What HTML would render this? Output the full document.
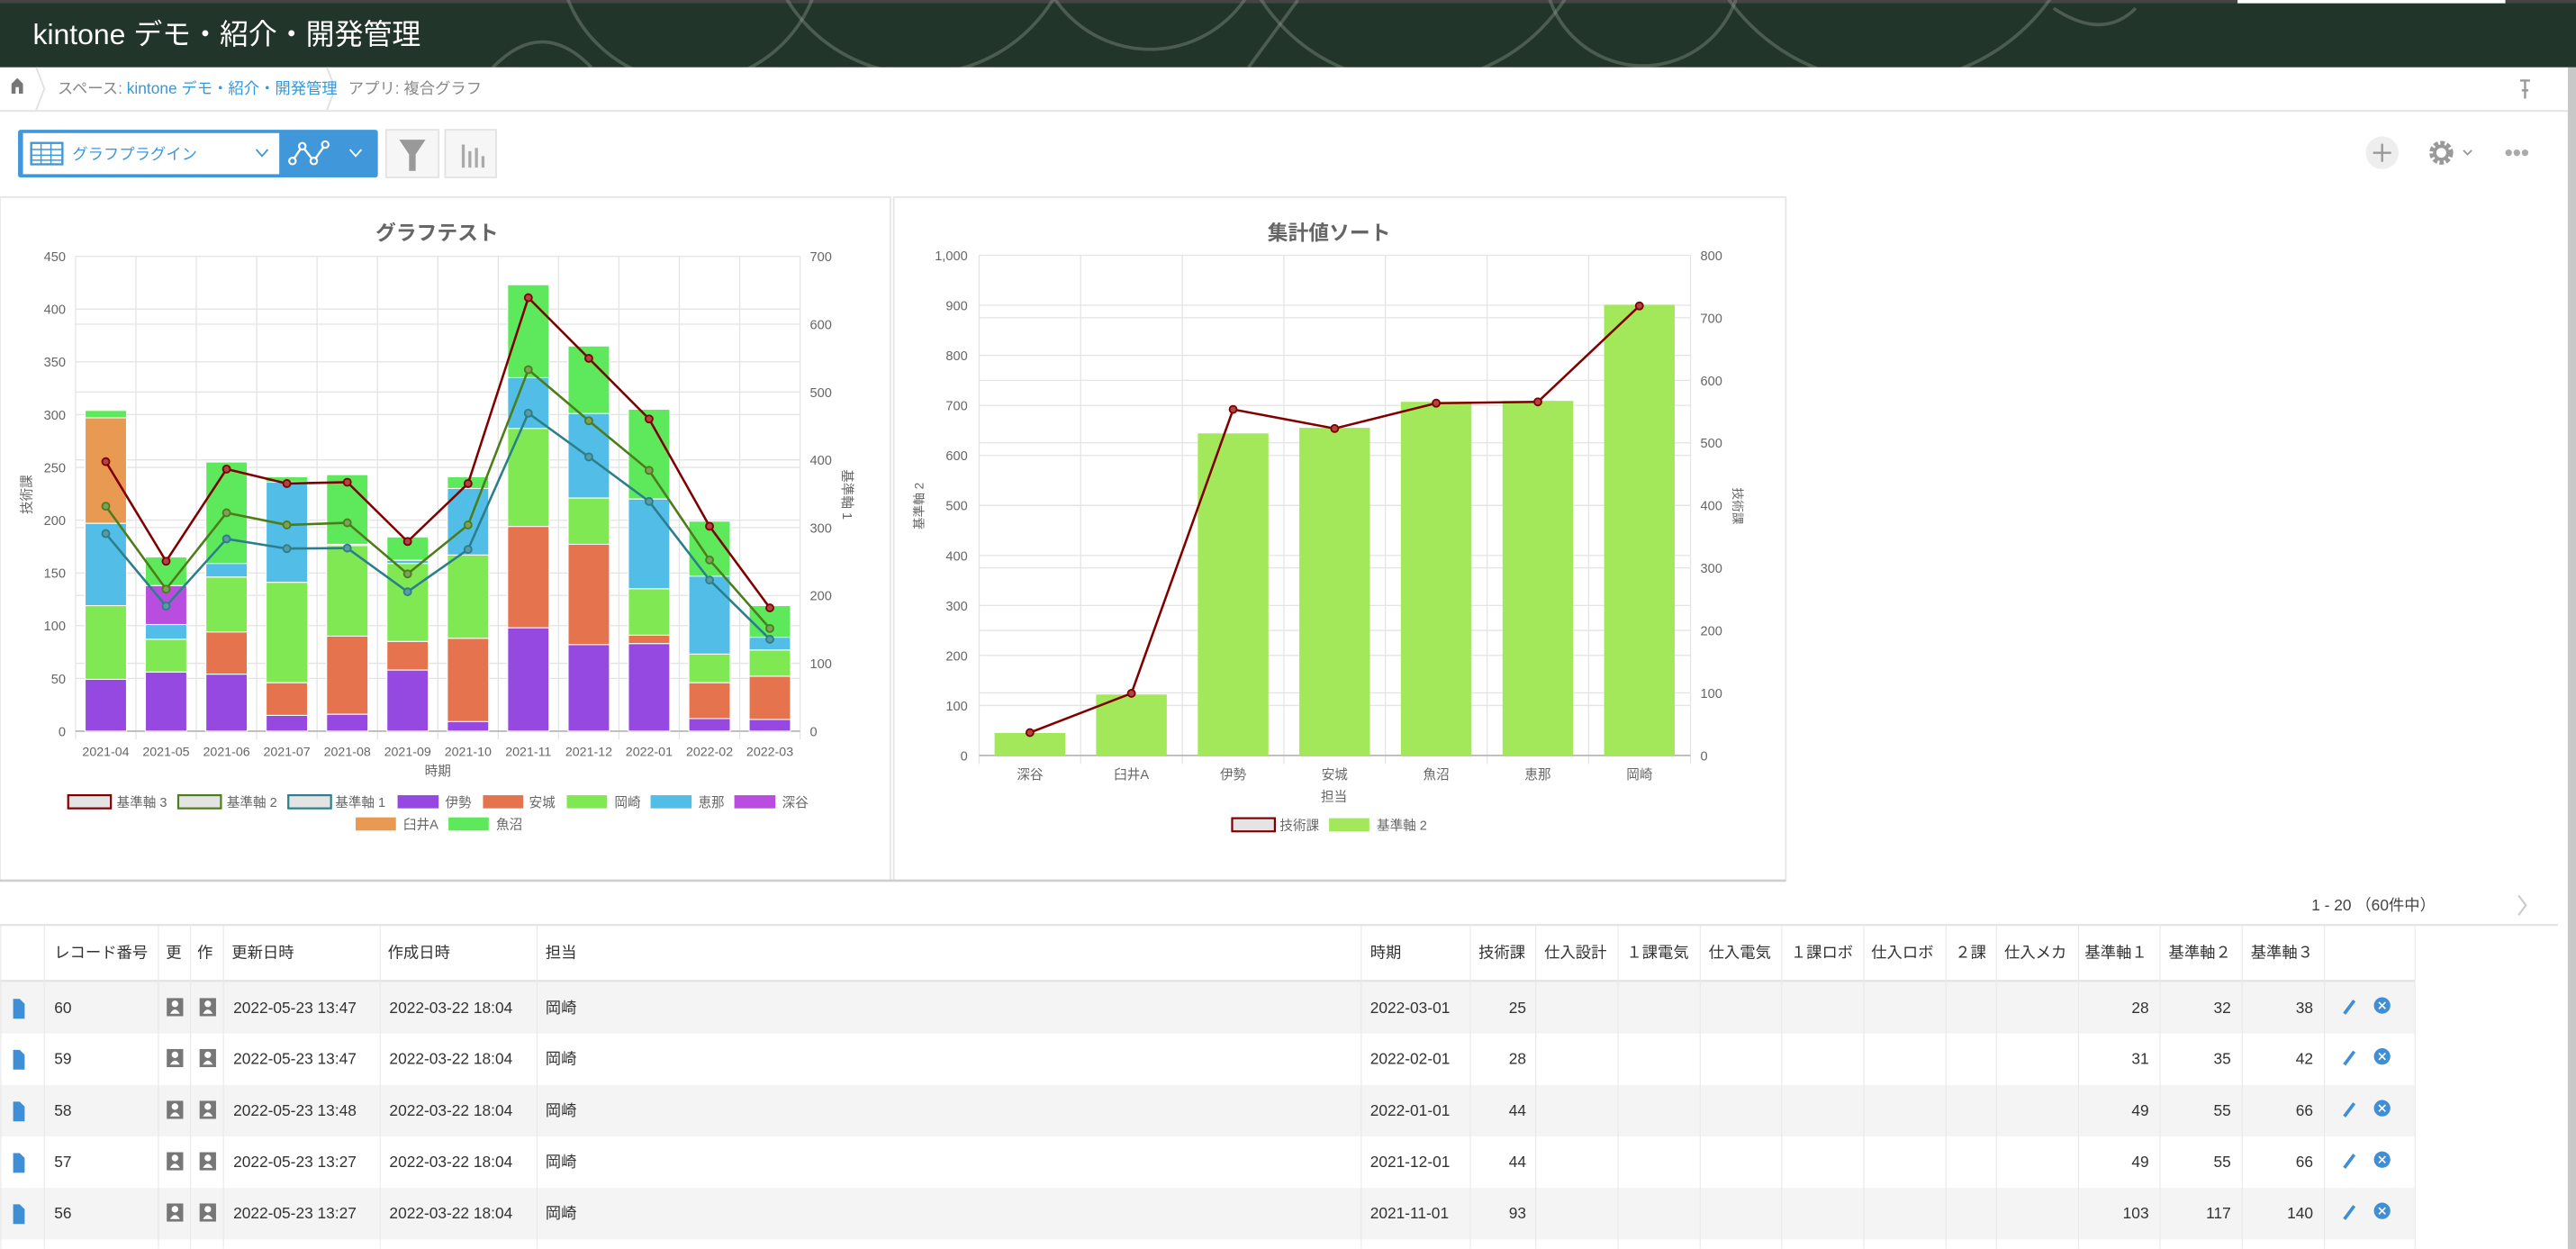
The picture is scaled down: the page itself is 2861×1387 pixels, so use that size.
<!DOCTYPE html>
<html><head><meta charset="utf-8"><style>
html,body{margin:0;padding:0;background:#fff;overflow:hidden}
svg{display:block}
text{font-family:"Liberation Sans","Noto Sans CJK JP",sans-serif}
</style></head><body>
<svg width="2861" height="1387" viewBox="0 0 1568 760.2" preserveAspectRatio="none" xmlns="http://www.w3.org/2000/svg">
<defs><clipPath id="hc"><rect x="0" y="0" width="1568" height="41"/></clipPath></defs>
<!-- header -->
<rect x="0" y="0" width="1568" height="41" fill="#22352a"/>
<rect x="0" y="0" width="1568" height="2" fill="#444"/>
<rect x="1362" y="0" width="163" height="2" fill="#fff"/>
<g clip-path="url(#hc)" fill="none" stroke="#9aa59c" stroke-opacity="0.35" stroke-width="2">
<circle cx="420" cy="-30" r="80"/><circle cx="560" cy="-50" r="95"/><circle cx="700" cy="-40" r="70"/>
<circle cx="860" cy="-60" r="110"/><circle cx="1000" cy="-20" r="60"/><circle cx="1150" cy="-70" r="120"/>
<path d="M300 41 Q330 10 360 41M760 41 L790 0M1250 5 Q1280 25 1300 5"/>
</g>
<text x="20" y="27" font-size="17.5" fill="#fff">kintone デモ・紹介・開発管理</text>
<rect x="1563" y="41" width="5" height="720" fill="#c8c8c8"/>
<!-- breadcrumb -->
<rect x="0" y="41" width="1563" height="26" fill="#fff"/>
<line x1="0" y1="67.5" x2="1563" y2="67.5" stroke="#e3e3e3"/>
<path d="M7 57 L7 51 L10.5 47.5 L14 51 L14 57 L11.5 57 L11.5 53 L9.5 53 L9.5 57Z" fill="#777"/>
<path d="M22 41 L27 54 L22 67" fill="none" stroke="#e0e0e0"/>
<path d="M199 41 L204 54 L199 67" fill="none" stroke="#e0e0e0"/>
<text x="35" y="57" font-size="9.5" fill="#888">スペース: <tspan fill="#3498db">kintone デモ・紹介・開発管理</tspan></text>
<text x="212" y="57" font-size="9.5" fill="#888">アプリ: 複合グラフ</text>
<path d="M1534 49 h6 M1537 49 v6 M1535 55 h4 M1537 55 v5" stroke="#999" stroke-width="1.3" fill="none"/>
<!-- toolbar -->
<rect x="11" y="79" width="219" height="29" rx="1.5" fill="#4097d9"/>
<rect x="14" y="81" width="156" height="25" fill="#fff"/>
<rect x="19" y="87" width="19" height="13" fill="none" stroke="#4097d9" stroke-width="1.3"/>
<path d="M19 91 h19 M19 94.5 h19 M19 97.5 h19 M25 87 v13 M31 87 v13" stroke="#4097d9" stroke-width="0.8"/>
<text x="44" y="97" font-size="9.5" fill="#4097d9">グラフプラグイン</text>
<path d="M156 91 l3.5 4 l3.5 -4" fill="none" stroke="#4097d9"/>
<path d="M178 98 L184 89 L191 98 L198 88" fill="none" stroke="#fff" stroke-width="1.3"/>
<g fill="#4097d9" stroke="#fff" stroke-width="1.2"><circle cx="178" cy="98" r="2"/><circle cx="184" cy="89" r="2"/><circle cx="191" cy="98" r="2"/><circle cx="198" cy="88" r="2"/></g>
<path d="M213 91 l3.5 4 l3.5 -4" fill="none" stroke="#fff"/>
<rect x="235" y="79" width="32" height="29" fill="#f6f6f6" stroke="#e3e3e3"/>
<path d="M243 85 h16 l-6 9 v10 h-4 v-10z" fill="#999"/>
<rect x="271" y="79" width="31" height="29" fill="#f6f6f6" stroke="#e3e3e3"/>
<path d="M282 88 v14 M286 92 v10 M290 90 v12 M294 95 v7" stroke="#aaa" stroke-width="1.8"/>
<circle cx="1450" cy="93" r="10" fill="#eee"/>
<path d="M1444.5 93 h11 M1450 87.5 v11" stroke="#999" stroke-width="1.3"/>
<circle cx="1486" cy="93" r="5.5" fill="none" stroke="#999" stroke-width="3.5" stroke-dasharray="2.4 1.2"/>
<circle cx="1486" cy="93" r="4" fill="none" stroke="#999" stroke-width="2"/>
<path d="M1499.5 91.5 l2.5 2.5 l2.5 -2.5" fill="none" stroke="#999"/>
<g fill="#aaa"><circle cx="1527" cy="93" r="2"/><circle cx="1532" cy="93" r="2"/><circle cx="1537" cy="93" r="2"/></g>
<!-- panels -->
<rect x="0" y="120" width="542" height="416" fill="#fff" stroke="#e6e6e6"/>
<rect x="544" y="120" width="543" height="416" fill="#fff" stroke="#e6e6e6"/>
<line x1="0" y1="536" x2="1087" y2="536" stroke="#cfcfcf" stroke-width="1.5"/>
<!-- chart 1 -->
<text x="266" y="146" font-size="12.5" font-weight="bold" fill="#666" text-anchor="middle">グラフテスト</text>
<g stroke="#e4e4e4" stroke-width="0.7">
<path d="M46 412.9H487M46 380.8H487M46 348.7H487M46 316.6H487M46 284.5H487M46 252.3H487M46 220.2H487M46 188.1H487M46 156H487"/>
<path d="M46 403.7H487M46 362.4H487M46 321.1H487M46 279.9H487M46 238.6H487M46 197.3H487"/>
<path d="M46 156V450M82.75 156V450M119.5 156V450M156.25 156V450M193 156V450M229.75 156V450M266.5 156V450M303.25 156V450M340 156V450M376.75 156V450M413.5 156V450M450.25 156V450M487 156V450"/>
</g>
<line x1="46" y1="445" x2="487" y2="445" stroke="#bbb"/>
<g font-size="8" fill="#666" text-anchor="end">
<text x="40" y="448">0</text><text x="40" y="415.9">50</text><text x="40" y="383.8">100</text><text x="40" y="351.7">150</text><text x="40" y="319.6">200</text><text x="40" y="287.5">250</text><text x="40" y="255.3">300</text><text x="40" y="223.2">350</text><text x="40" y="191.1">400</text><text x="40" y="159">450</text>
</g>
<g font-size="8" fill="#666">
<text x="493" y="448">0</text><text x="493" y="406.7">100</text><text x="493" y="365.4">200</text><text x="493" y="324.1">300</text><text x="493" y="282.9">400</text><text x="493" y="241.6">500</text><text x="493" y="200.3">600</text><text x="493" y="159">700</text>
</g>
<g font-size="7.8" fill="#666" text-anchor="middle">
<text x="64.4" y="460">2021-04</text><text x="101.1" y="460">2021-05</text><text x="137.9" y="460">2021-06</text><text x="174.6" y="460">2021-07</text><text x="211.4" y="460">2021-08</text><text x="248.1" y="460">2021-09</text><text x="284.9" y="460">2021-10</text><text x="321.6" y="460">2021-11</text><text x="358.4" y="460">2021-12</text><text x="395.1" y="460">2022-01</text><text x="431.9" y="460">2022-02</text><text x="468.6" y="460">2022-03</text>
</g>
<text x="266.5" y="472" font-size="8" fill="#666" text-anchor="middle">時期</text>
<text transform="translate(19,301) rotate(-90)" font-size="8" fill="#666" text-anchor="middle">技術課</text>
<text transform="translate(513,301) rotate(90)" font-size="8" fill="#666" text-anchor="middle">基準軸 1</text>
<g stroke="#fff" stroke-width="0.6">
<rect x="51.8" y="413.5" width="25.2" height="31.5" fill="#9549e0"/><rect x="51.8" y="368.6" width="25.2" height="44.9" fill="#80e853"/><rect x="51.8" y="318.5" width="25.2" height="50.1" fill="#52bde6"/><rect x="51.8" y="254.3" width="25.2" height="64.2" fill="#e89a52"/><rect x="51.8" y="249.8" width="25.2" height="4.5" fill="#5ee85b"/>
<rect x="88.5" y="409" width="25.2" height="36" fill="#9549e0"/><rect x="88.5" y="389.1" width="25.2" height="19.9" fill="#80e853"/><rect x="88.5" y="380.1" width="25.2" height="9" fill="#52bde6"/><rect x="88.5" y="356.4" width="25.2" height="23.7" fill="#b94de0"/><rect x="88.5" y="339" width="25.2" height="17.4" fill="#5ee85b"/>
<rect x="125.3" y="410.3" width="25.2" height="34.7" fill="#9549e0"/><rect x="125.3" y="384.6" width="25.2" height="25.7" fill="#e5734e"/><rect x="125.3" y="351.2" width="25.2" height="33.4" fill="#80e853"/><rect x="125.3" y="342.9" width="25.2" height="8.3" fill="#52bde6"/><rect x="125.3" y="281.2" width="25.2" height="61.7" fill="#5ee85b"/>
<rect x="162" y="435.4" width="25.2" height="9.6" fill="#9549e0"/><rect x="162" y="415.5" width="25.2" height="19.9" fill="#e5734e"/><rect x="162" y="354.4" width="25.2" height="61.1" fill="#80e853"/><rect x="162" y="293.4" width="25.2" height="61" fill="#52bde6"/><rect x="162" y="290.2" width="25.2" height="3.2" fill="#5ee85b"/>
<rect x="198.8" y="434.7" width="25.2" height="10.3" fill="#9549e0"/><rect x="198.8" y="387.2" width="25.2" height="47.5" fill="#e5734e"/><rect x="198.8" y="332" width="25.2" height="55.2" fill="#80e853"/><rect x="198.8" y="331.3" width="25.2" height="0.7" fill="#52bde6"/><rect x="198.8" y="288.9" width="25.2" height="42.4" fill="#5ee85b"/>
<rect x="235.5" y="407.8" width="25.2" height="37.2" fill="#9549e0"/><rect x="235.5" y="390.4" width="25.2" height="17.4" fill="#e5734e"/><rect x="235.5" y="342.9" width="25.2" height="47.5" fill="#80e853"/><rect x="235.5" y="341" width="25.2" height="1.9" fill="#52bde6"/><rect x="235.5" y="326.8" width="25.2" height="14.2" fill="#5ee85b"/>
<rect x="272.3" y="439.2" width="25.2" height="5.8" fill="#9549e0"/><rect x="272.3" y="388.5" width="25.2" height="50.7" fill="#e5734e"/><rect x="272.3" y="337.8" width="25.2" height="50.7" fill="#80e853"/><rect x="272.3" y="297.3" width="25.2" height="40.5" fill="#52bde6"/><rect x="272.3" y="290.2" width="25.2" height="7.1" fill="#5ee85b"/>
<rect x="309" y="382.1" width="25.2" height="62.9" fill="#9549e0"/><rect x="309" y="320.4" width="25.2" height="61.7" fill="#e5734e"/><rect x="309" y="260.7" width="25.2" height="59.7" fill="#80e853"/><rect x="309" y="229.9" width="25.2" height="30.8" fill="#52bde6"/><rect x="309" y="173.3" width="25.2" height="56.6" fill="#5ee85b"/>
<rect x="345.8" y="392.3" width="25.2" height="52.7" fill="#9549e0"/><rect x="345.8" y="331.3" width="25.2" height="61" fill="#e5734e"/><rect x="345.8" y="303.1" width="25.2" height="28.2" fill="#80e853"/><rect x="345.8" y="251.7" width="25.2" height="51.4" fill="#52bde6"/><rect x="345.8" y="210.6" width="25.2" height="41.1" fill="#5ee85b"/>
<rect x="382.5" y="391.7" width="25.2" height="53.3" fill="#9549e0"/><rect x="382.5" y="386.6" width="25.2" height="5.1" fill="#e5734e"/><rect x="382.5" y="358.3" width="25.2" height="28.3" fill="#80e853"/><rect x="382.5" y="303.7" width="25.2" height="54.6" fill="#52bde6"/><rect x="382.5" y="249.1" width="25.2" height="54.6" fill="#5ee85b"/>
<rect x="419.3" y="437.3" width="25.2" height="7.7" fill="#9549e0"/><rect x="419.3" y="415.5" width="25.2" height="21.8" fill="#e5734e"/><rect x="419.3" y="398.1" width="25.2" height="17.4" fill="#80e853"/><rect x="419.3" y="350.6" width="25.2" height="47.5" fill="#52bde6"/><rect x="419.3" y="317.2" width="25.2" height="33.4" fill="#5ee85b"/>
<rect x="456" y="437.9" width="25.2" height="7.1" fill="#9549e0"/><rect x="456" y="411.6" width="25.2" height="26.3" fill="#e5734e"/><rect x="456" y="395.6" width="25.2" height="16" fill="#80e853"/><rect x="456" y="387.8" width="25.2" height="7.8" fill="#52bde6"/><rect x="456" y="368.6" width="25.2" height="19.2" fill="#5ee85b"/>
</g>
<polyline fill="none" stroke="#2a7f8a" stroke-width="1.4" points="64.4,324.8 101.1,368.9 137.9,328 174.6,333.9 211.4,333.6 248.1,360.2 284.9,334.4 321.6,251.5 358.4,278.1 395.1,305.2 431.9,353 468.6,389.1"/>
<polyline fill="none" stroke="#4d7d1a" stroke-width="1.4" points="64.4,308.1 101.1,358.6 137.9,312.1 174.6,319.5 211.4,318.2 248.1,349.3 284.9,319.5 321.6,225 358.4,256.1 395.1,286.3 431.9,340.8 468.6,382.5"/>
<polyline fill="none" stroke="#800000" stroke-width="1.4" points="64.4,281 101.1,341.6 137.9,285.5 174.6,294.3 211.4,293.5 248.1,329.6 284.9,294.3 321.6,181.2 358.4,218.1 395.1,255 431.9,320.3 468.6,370"/>
<g fill="#5b9aa3" stroke="#2a7f8a" stroke-width="1"><circle cx="64.4" cy="324.8" r="2.2"/><circle cx="101.1" cy="368.9" r="2.2"/><circle cx="137.9" cy="328" r="2.2"/><circle cx="174.6" cy="333.9" r="2.2"/><circle cx="211.4" cy="333.6" r="2.2"/><circle cx="248.1" cy="360.2" r="2.2"/><circle cx="284.9" cy="334.4" r="2.2"/><circle cx="321.6" cy="251.5" r="2.2"/><circle cx="358.4" cy="278.1" r="2.2"/><circle cx="395.1" cy="305.2" r="2.2"/><circle cx="431.9" cy="353" r="2.2"/><circle cx="468.6" cy="389.1" r="2.2"/></g>
<g fill="#7fa05a" stroke="#4d7d1a" stroke-width="1"><circle cx="64.4" cy="308.1" r="2.2"/><circle cx="101.1" cy="358.6" r="2.2"/><circle cx="137.9" cy="312.1" r="2.2"/><circle cx="174.6" cy="319.5" r="2.2"/><circle cx="211.4" cy="318.2" r="2.2"/><circle cx="248.1" cy="349.3" r="2.2"/><circle cx="284.9" cy="319.5" r="2.2"/><circle cx="321.6" cy="225" r="2.2"/><circle cx="358.4" cy="256.1" r="2.2"/><circle cx="395.1" cy="286.3" r="2.2"/><circle cx="431.9" cy="340.8" r="2.2"/><circle cx="468.6" cy="382.5" r="2.2"/></g>
<g fill="#b04545" stroke="#800000" stroke-width="1"><circle cx="64.4" cy="281" r="2.2"/><circle cx="101.1" cy="341.6" r="2.2"/><circle cx="137.9" cy="285.5" r="2.2"/><circle cx="174.6" cy="294.3" r="2.2"/><circle cx="211.4" cy="293.5" r="2.2"/><circle cx="248.1" cy="329.6" r="2.2"/><circle cx="284.9" cy="294.3" r="2.2"/><circle cx="321.6" cy="181.2" r="2.2"/><circle cx="358.4" cy="218.1" r="2.2"/><circle cx="395.1" cy="255" r="2.2"/><circle cx="431.9" cy="320.3" r="2.2"/><circle cx="468.6" cy="370" r="2.2"/></g>
<g font-size="8" fill="#666">
<rect x="41.5" y="484" width="26" height="8" fill="#e4e4e4" stroke="#800000" stroke-width="1.2"/><text x="71" y="491">基準軸 3</text>
<rect x="108.5" y="484" width="26" height="8" fill="#e4e4e4" stroke="#4d7d1a" stroke-width="1.2"/><text x="138" y="491">基準軸 2</text>
<rect x="175.5" y="484" width="26" height="8" fill="#e4e4e4" stroke="#2a7f8a" stroke-width="1.2"/><text x="204" y="491">基準軸 1</text>
<rect x="242" y="484" width="25" height="8" fill="#9549e0"/><text x="271" y="491">伊勢</text>
<rect x="294" y="484" width="24.5" height="8" fill="#e5734e"/><text x="322" y="491">安城</text>
<rect x="345" y="484" width="24.5" height="8" fill="#80e853"/><text x="374" y="491">岡崎</text>
<rect x="396" y="484" width="25" height="8" fill="#52bde6"/><text x="425" y="491">恵那</text>
<rect x="447" y="484" width="25" height="8" fill="#b94de0"/><text x="476" y="491">深谷</text>
<rect x="216.5" y="497.5" width="24.5" height="8" fill="#e89a52"/><text x="245.5" y="504.5">臼井A</text>
<rect x="273" y="497.5" width="24.5" height="8" fill="#5ee85b"/><text x="302" y="504.5">魚沼</text>
</g>
<!-- chart 2 -->
<text x="809" y="146" font-size="12.5" font-weight="bold" fill="#666" text-anchor="middle">集計値ソート</text>
<g stroke="#e4e4e4" stroke-width="0.7">
<path d="M596 429.4H1029M596 398.9H1029M596 368.5H1029M596 338.1H1029M596 307.6H1029M596 277.2H1029M596 246.7H1029M596 216.3H1029M596 185.8H1029M596 155.4H1029"/>
<path d="M596 421.7H1029M596 383.7H1029M596 345.6H1029M596 307.6H1029M596 269.5H1029M596 231.5H1029M596 193.4H1029"/>
<path d="M596 155.4V465M657.8 155.4V465M719.7 155.4V465M781.5 155.4V465M843.3 155.4V465M905.2 155.4V465M967 155.4V465M1029 155.4V465"/>
</g>
<line x1="596" y1="459.8" x2="1029" y2="459.8" stroke="#bbb"/>
<g font-size="8" fill="#666" text-anchor="end">
<text x="589" y="462.8">0</text><text x="589" y="432.4">100</text><text x="589" y="401.9">200</text><text x="589" y="371.5">300</text><text x="589" y="341.1">400</text><text x="589" y="310.6">500</text><text x="589" y="280.2">600</text><text x="589" y="249.7">700</text><text x="589" y="219.3">800</text><text x="589" y="188.8">900</text><text x="589" y="158.4">1,000</text>
</g>
<g font-size="8" fill="#666">
<text x="1035" y="462.8">0</text><text x="1035" y="424.7">100</text><text x="1035" y="386.7">200</text><text x="1035" y="348.6">300</text><text x="1035" y="310.6">400</text><text x="1035" y="272.5">500</text><text x="1035" y="234.5">600</text><text x="1035" y="196.4">700</text><text x="1035" y="158.4">800</text>
</g>
<g font-size="8" fill="#666" text-anchor="middle">
<text x="626.9" y="474">深谷</text><text x="688.7" y="474">臼井A</text><text x="750.6" y="474">伊勢</text><text x="812.4" y="474">安城</text><text x="874.2" y="474">魚沼</text><text x="936.1" y="474">恵那</text><text x="997.9" y="474">岡崎</text>
</g>
<text x="812" y="487.5" font-size="8" fill="#666" text-anchor="middle">担当</text>
<text transform="translate(562,308) rotate(-90)" font-size="7.5" fill="#666" text-anchor="middle">基準軸 2</text>
<text transform="translate(1055,308) rotate(90)" font-size="7.5" fill="#666" text-anchor="middle">技術課</text>
<g fill="#a2e85a">
<rect x="605.4" y="446.1" width="43" height="13.7"/><rect x="667.2" y="422.7" width="43" height="37.1"/><rect x="729.1" y="263.8" width="43" height="196"/><rect x="790.9" y="260.4" width="43" height="199.4"/><rect x="852.7" y="244.6" width="43" height="215.2"/><rect x="914.6" y="244" width="43" height="215.8"/><rect x="976.4" y="185.5" width="43" height="274.3"/>
</g>
<polyline fill="none" stroke="#800000" stroke-width="1.4" points="626.9,445.9 688.7,422 750.6,249.2 812.4,260.8 874.2,245.4 936.1,244.6 997.9,186.2"/>
<g fill="#b04545" stroke="#800000" stroke-width="1"><circle cx="626.9" cy="445.9" r="2.2"/><circle cx="688.7" cy="422" r="2.2"/><circle cx="750.6" cy="249.2" r="2.2"/><circle cx="812.4" cy="260.8" r="2.2"/><circle cx="874.2" cy="245.4" r="2.2"/><circle cx="936.1" cy="244.6" r="2.2"/><circle cx="997.9" cy="186.2" r="2.2"/></g>
<g font-size="8" fill="#666">
<rect x="750" y="498" width="26" height="8" fill="#e4e4e4" stroke="#800000" stroke-width="1.2"/><text x="779" y="505">技術課</text>
<rect x="809" y="498" width="24.5" height="8" fill="#a2e85a"/><text x="838" y="505">基準軸 2</text>
</g>
<!-- pagination -->
<text x="1407" y="554" font-size="9.5" fill="#444">1 - 20 （60件中）</text>
<path d="M1533 545 l4.5 6 l-4.5 6" fill="none" stroke="#ccc" stroke-width="1.2"/>
<!-- table -->
<line x1="0" y1="563" x2="1557" y2="563" stroke="#e3e3e3" stroke-width="1.2"/>
<rect x="0" y="597" width="1470" height="32" fill="#f4f4f4"/>
<rect x="0" y="660.5" width="1470" height="31.2" fill="#f4f4f4"/>
<rect x="0" y="723" width="1470" height="31.3" fill="#f4f4f4"/>
<line x1="0" y1="597" x2="1470" y2="597" stroke="#e3e3e3" stroke-width="1.2"/>
<g stroke="#e8e8e8" stroke-width="0.6">
<path d="M0.5 563V760M27 563V760M96.4 563V760M116 563V760M136 563V760M231.4 563V760M326.9 563V760M828.6 563V760M895 563V760M934.8 563V760M984.9 563V760M1034.9 563V760M1084.5 563V760M1134.5 563V760M1184.5 563V760M1215.2 563V760M1265.2 563V760M1314.8 563V760M1364.8 563V760M1414.9 563V760M1470 563V760"/>
</g>
<g font-size="9.5" fill="#333">
<text x="33" y="583">レコード番号</text><text x="141" y="583">更新日時</text><text x="236" y="583">作成日時</text><text x="332" y="583">担当</text>
<text x="834" y="583">時期</text><text x="900" y="583">技術課</text><text x="940" y="583">仕入設計</text><text x="990" y="583">１課電気</text><text x="1040" y="583">仕入電気</text><text x="1090" y="583">１課ロボ</text><text x="1139" y="583">仕入ロボ</text><text x="1190" y="583">２課</text><text x="1220" y="583">仕入メカ</text><text x="1269" y="583">基準軸１</text><text x="1320" y="583">基準軸２</text><text x="1370" y="583">基準軸３</text>
<text x="101" y="583">更</text><text x="120" y="583">作</text>
</g>
<g font-size="9.5" fill="#333">
<text x="33" y="616.5">60</text><text x="142" y="616.5">2022-05-23 13:47</text><text x="237" y="616.5">2022-03-22 18:04</text><text x="332" y="616.5">岡崎</text><text x="834" y="616.5">2022-03-01</text><text x="929" y="616.5" text-anchor="end">25</text><text x="1308" y="616.5" text-anchor="end">28</text><text x="1358" y="616.5" text-anchor="end">32</text><text x="1408" y="616.5" text-anchor="end">38</text>
<text x="33" y="647.5">59</text><text x="142" y="647.5">2022-05-23 13:47</text><text x="237" y="647.5">2022-03-22 18:04</text><text x="332" y="647.5">岡崎</text><text x="834" y="647.5">2022-02-01</text><text x="929" y="647.5" text-anchor="end">28</text><text x="1308" y="647.5" text-anchor="end">31</text><text x="1358" y="647.5" text-anchor="end">35</text><text x="1408" y="647.5" text-anchor="end">42</text>
<text x="33" y="679">58</text><text x="142" y="679">2022-05-23 13:48</text><text x="237" y="679">2022-03-22 18:04</text><text x="332" y="679">岡崎</text><text x="834" y="679">2022-01-01</text><text x="929" y="679" text-anchor="end">44</text><text x="1308" y="679" text-anchor="end">49</text><text x="1358" y="679" text-anchor="end">55</text><text x="1408" y="679" text-anchor="end">66</text>
<text x="33" y="710.3">57</text><text x="142" y="710.3">2022-05-23 13:27</text><text x="237" y="710.3">2022-03-22 18:04</text><text x="332" y="710.3">岡崎</text><text x="834" y="710.3">2021-12-01</text><text x="929" y="710.3" text-anchor="end">44</text><text x="1308" y="710.3" text-anchor="end">49</text><text x="1358" y="710.3" text-anchor="end">55</text><text x="1408" y="710.3" text-anchor="end">66</text>
<text x="33" y="741.5">56</text><text x="142" y="741.5">2022-05-23 13:27</text><text x="237" y="741.5">2022-03-22 18:04</text><text x="332" y="741.5">岡崎</text><text x="834" y="741.5">2021-11-01</text><text x="929" y="741.5" text-anchor="end">93</text><text x="1308" y="741.5" text-anchor="end">103</text><text x="1358" y="741.5" text-anchor="end">117</text><text x="1408" y="741.5" text-anchor="end">140</text>
</g>
<g>
<g transform="translate(0,613)"><path d="M8 -5 h4 l3 3 v9 h-7z" fill="#3f8fd6"/><rect x="101.5" y="-5.5" width="10" height="11" fill="#777"/><circle cx="106.5" cy="-2" r="2" fill="#fff"/><path d="M103.5 4 q3 -5 6 0z" fill="#fff"/><rect x="121.5" y="-5.5" width="10" height="11" fill="#777"/><circle cx="126.5" cy="-2" r="2" fill="#fff"/><path d="M123.5 4 q3 -5 6 0z" fill="#fff"/><path d="M1427 4 l6 -8" stroke="#3f8fd6" stroke-width="2"/><circle cx="1450" cy="-1" r="5" fill="#3f8fd6"/><path d="M1448 -3 l4 4 M1452 -3 l-4 4" stroke="#fff" stroke-width="0.9"/></g>
<g transform="translate(0,644)"><path d="M8 -5 h4 l3 3 v9 h-7z" fill="#3f8fd6"/><rect x="101.5" y="-5.5" width="10" height="11" fill="#777"/><circle cx="106.5" cy="-2" r="2" fill="#fff"/><path d="M103.5 4 q3 -5 6 0z" fill="#fff"/><rect x="121.5" y="-5.5" width="10" height="11" fill="#777"/><circle cx="126.5" cy="-2" r="2" fill="#fff"/><path d="M123.5 4 q3 -5 6 0z" fill="#fff"/><path d="M1427 4 l6 -8" stroke="#3f8fd6" stroke-width="2"/><circle cx="1450" cy="-1" r="5" fill="#3f8fd6"/><path d="M1448 -3 l4 4 M1452 -3 l-4 4" stroke="#fff" stroke-width="0.9"/></g>
<g transform="translate(0,675.5)"><path d="M8 -5 h4 l3 3 v9 h-7z" fill="#3f8fd6"/><rect x="101.5" y="-5.5" width="10" height="11" fill="#777"/><circle cx="106.5" cy="-2" r="2" fill="#fff"/><path d="M103.5 4 q3 -5 6 0z" fill="#fff"/><rect x="121.5" y="-5.5" width="10" height="11" fill="#777"/><circle cx="126.5" cy="-2" r="2" fill="#fff"/><path d="M123.5 4 q3 -5 6 0z" fill="#fff"/><path d="M1427 4 l6 -8" stroke="#3f8fd6" stroke-width="2"/><circle cx="1450" cy="-1" r="5" fill="#3f8fd6"/><path d="M1448 -3 l4 4 M1452 -3 l-4 4" stroke="#fff" stroke-width="0.9"/></g>
<g transform="translate(0,706.8)"><path d="M8 -5 h4 l3 3 v9 h-7z" fill="#3f8fd6"/><rect x="101.5" y="-5.5" width="10" height="11" fill="#777"/><circle cx="106.5" cy="-2" r="2" fill="#fff"/><path d="M103.5 4 q3 -5 6 0z" fill="#fff"/><rect x="121.5" y="-5.5" width="10" height="11" fill="#777"/><circle cx="126.5" cy="-2" r="2" fill="#fff"/><path d="M123.5 4 q3 -5 6 0z" fill="#fff"/><path d="M1427 4 l6 -8" stroke="#3f8fd6" stroke-width="2"/><circle cx="1450" cy="-1" r="5" fill="#3f8fd6"/><path d="M1448 -3 l4 4 M1452 -3 l-4 4" stroke="#fff" stroke-width="0.9"/></g>
<g transform="translate(0,738)"><path d="M8 -5 h4 l3 3 v9 h-7z" fill="#3f8fd6"/><rect x="101.5" y="-5.5" width="10" height="11" fill="#777"/><circle cx="106.5" cy="-2" r="2" fill="#fff"/><path d="M103.5 4 q3 -5 6 0z" fill="#fff"/><rect x="121.5" y="-5.5" width="10" height="11" fill="#777"/><circle cx="126.5" cy="-2" r="2" fill="#fff"/><path d="M123.5 4 q3 -5 6 0z" fill="#fff"/><path d="M1427 4 l6 -8" stroke="#3f8fd6" stroke-width="2"/><circle cx="1450" cy="-1" r="5" fill="#3f8fd6"/><path d="M1448 -3 l4 4 M1452 -3 l-4 4" stroke="#fff" stroke-width="0.9"/></g>
</g>
</svg>
</body></html>
